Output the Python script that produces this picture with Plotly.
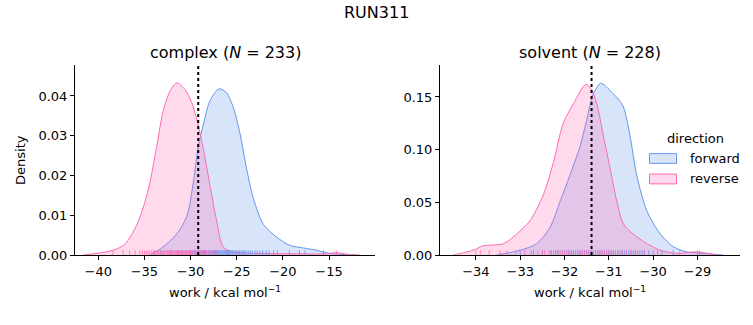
import plotly.graph_objects as go

# ---------------- data ----------------
# complex leg: KDE curves (work in kcal/mol, density)
cx_fwd_x = [-34.4, -33.0, -31.5, -30.4, -29.7, -29.17, -28.6, -27.9, -26.92, -26.1, -25.37,
            -24.65, -23.92, -23.2, -22.1, -20.67, -19.2, -17.8, -16.34, -14.9, -13.1, -12.0]
cx_fwd_y = [0.0, 0.0020, 0.0053, 0.0098, 0.0183, 0.0273, 0.0330, 0.0388, 0.0418, 0.0408, 0.0371,
            0.0306, 0.0216, 0.0143, 0.0077, 0.0045, 0.0024, 0.0018, 0.0012, 0.0004, 0.0001, 0.0]
cx_rev_x = [-41.6, -38.4, -37.1, -35.8, -34.94, -34.4, -33.67, -32.96, -32.23, -31.5, -30.6,
            -29.88, -29.17, -28.6, -27.9, -27.17, -26.45, -25.4, -22.0, -18.0, -15.5, -14.2,
            -13.0, -11.6]
cx_rev_y = [0.0, 0.0012, 0.0028, 0.0077, 0.0134, 0.0183, 0.0273, 0.0363, 0.0412, 0.0433, 0.0416,
            0.0384, 0.0326, 0.0265, 0.0175, 0.0085, 0.0020, 0.0008, 0.0004, 0.0003, 0.0003, 0.0006,
            0.0002, 0.0]
# solvent leg
sv_fwd_x = [-33.53, -33.0, -32.63, -32.33, -32.1, -31.88, -31.65, -31.5, -31.35, -31.18, -30.97,
            -30.79, -30.67, -30.52, -30.37, -30.14, -29.84, -29.54, -29.24, -28.87, -28.41]
sv_fwd_y = [0.0, 0.0046, 0.0108, 0.026, 0.051, 0.0756, 0.103, 0.128, 0.153, 0.163, 0.156,
            0.148, 0.1405, 0.1127, 0.0756, 0.0417, 0.020, 0.0078, 0.003, 0.0016, 0.0]
sv_rev_x = [-34.51, -34.06, -33.84, -33.38, -33.08, -32.78, -32.48, -32.25, -32.03, -31.8, -31.52,
            -31.39, -31.27, -31.12, -30.97, -30.82, -30.67, -30.45, -30.14, -29.84, -29.47, -29.01,
            -28.56]
sv_rev_y = [0.0, 0.0046, 0.0087, 0.0108, 0.020, 0.0324, 0.057, 0.088, 0.125, 0.1435, 0.162,
            0.157, 0.1435, 0.1127, 0.0819, 0.051, 0.0294, 0.020, 0.0108, 0.0046, 0.0016, 0.003,
            0.0]

# rug samples (approximate individual work values)
cx_fwd_rug = [-33.2, -32.1, -31.4, -30.9, -30.5, -30.1, -29.8, -29.6, -29.5, -29.3, -29.2, -29.0,
              -28.9, -28.75, -28.6, -28.5, -28.4, -28.25, -28.1, -28.0, -27.9, -27.75, -27.6,
              -27.5, -27.4, -27.3, -27.2, -27.1, -27.0, -26.9, -26.8, -26.7, -26.6, -26.5, -26.4,
              -26.3, -26.2, -26.1, -26.0, -25.9, -25.8, -25.7, -25.6, -25.45, -25.3, -25.15, -25.0,
              -24.85, -24.7, -24.55, -24.4, -24.25, -24.1, -23.9, -23.7, -23.5, -23.3, -23.0, -22.8,
              -22.5, -22.2, -21.8, -21.5, -21.0, -20.6, -19.3, -18.2, -17.6, -15.6]
cx_rev_rug = [-38.4, -37.3, -36.6, -36.0, -35.5, -35.2, -35.0, -34.8, -34.6, -34.4, -34.2, -34.0,
              -33.9, -33.75, -33.6, -33.45, -33.3, -33.15, -33.0, -32.9, -32.8, -32.65, -32.5,
              -32.4, -32.3, -32.2, -32.1, -32.0, -31.9, -31.8, -31.7, -31.6, -31.5, -31.4, -31.3,
              -31.2, -31.1, -31.0, -30.9, -30.8, -30.7, -30.6, -30.5, -30.4, -30.3, -30.2, -30.1,
              -30.0, -29.9, -29.75, -29.6, -29.45, -29.3, -29.15, -29.0, -28.85, -28.7, -28.5,
              -28.3, -28.1, -27.9, -27.7, -27.4, -27.1, -14.2]
sv_fwd_rug = [-33.0, -32.7, -32.5, -32.3, -32.2, -32.15, -32.05, -32.0, -31.95, -31.9, -31.85,
              -31.8, -31.75, -31.7, -31.65, -31.6, -31.55, -31.5, -31.45, -31.4, -31.35, -31.3,
              -31.25, -31.2, -31.15, -31.1, -31.05, -31.0, -30.95, -30.9, -30.85, -30.8, -30.75,
              -30.7, -30.65, -30.6, -30.55, -30.5, -30.45, -30.4, -30.35, -30.3, -30.25, -30.2,
              -30.1, -30.0, -29.9, -29.8, -29.55, -28.95]
sv_rev_rug = [-34.0, -33.9, -33.7, -33.45, -33.3, -33.1, -32.9, -32.75, -32.6, -32.5, -32.45,
              -32.35, -32.3, -32.25, -32.2, -32.15, -32.1, -32.05, -32.0, -31.95, -31.9, -31.85,
              -31.8, -31.75, -31.7, -31.65, -31.6, -31.55, -31.5, -31.45, -31.4, -31.35, -31.3,
              -31.25, -31.2, -31.15, -31.1, -31.05, -31.0, -30.95, -30.9, -30.8, -30.7, -30.6,
              -30.5, -30.4, -30.2, -29.9, -29.4, -29.0]

# dotted vertical line (free-energy estimate)
cx_line = -29.17
sv_line = -31.39

cx_title = "complex (<i>N</i> = 233)"
sv_title = "solvent (<i>N</i> = 228)"
suptitle = "RUN311"
legend_title = "direction"
directions = ["forward", "reverse"]

cx_xrange = [-42.52, -10.02]
cx_yrange = [0, 0.0477]
sv_xrange = [-34.81, -28.04]
sv_yrange = [0, 0.180]
cx_ticks = [-40, -35, -30, -25, -20, -15]
cx_yticks = [0.00, 0.01, 0.02, 0.03, 0.04]
sv_ticks = [-34, -33, -32, -31, -30, -29]
sv_yticks = [0.00, 0.05, 0.10, 0.15]

# ---------------- styling ----------------
BLUE = "#6495ED"
PINK = "#FF69B4"
BLUE_F = "rgba(100,149,237,0.25)"
PINK_F = "rgba(255,105,180,0.25)"
FONT = "DejaVu Sans"

fig = go.Figure()


def add_panel(xa, ya, fx, fy, rx, ry, frug, rrug, vline, yr):
    for x, y, col, fcol, name in [(fx, fy, BLUE, BLUE_F, directions[0]),
                                  (rx, ry, PINK, PINK_F, directions[1])]:
        fig.add_trace(go.Scatter(
            x=x, y=y, mode="lines", line=dict(color=col, width=1, shape="spline", smoothing=0.8),
            fill="tozeroy", fillcolor=fcol, name=name, showlegend=False,
            xaxis=xa, yaxis=ya, hoverinfo="skip"))
    h = 0.025 * yr[1]
    for rug, col in [(frug, BLUE), (rrug, PINK)]:
        xs, ys = [], []
        for v in rug:
            xs += [v, v, None]
            ys += [0, h, None]
        fig.add_trace(go.Scatter(x=xs, y=ys, mode="lines", line=dict(color=col, width=1),
                                 opacity=0.8, showlegend=False, xaxis=xa, yaxis=ya,
                                 hoverinfo="skip"))
    fig.add_trace(go.Scatter(x=[vline, vline], y=[0, yr[1]], mode="lines",
                             line=dict(color="black", width=2, dash="dot"),
                             showlegend=False, xaxis=xa, yaxis=ya, hoverinfo="skip"))


add_panel("x", "y", cx_fwd_x, cx_fwd_y, cx_rev_x, cx_rev_y, cx_fwd_rug, cx_rev_rug,
          cx_line, cx_yrange)
add_panel("x2", "y2", sv_fwd_x, sv_fwd_y, sv_rev_x, sv_rev_y, sv_fwd_rug, sv_rev_rug,
          sv_line, sv_yrange)

W, H = 753, 325
ybot = (H - 261.5) / H
ytop = (H - 67) / H

axis_common = dict(showgrid=False, zeroline=False, showline=True, linecolor="black",
                   linewidth=1, ticks="outside", ticklen=4, tickcolor="black",
                   tickfont=dict(family=FONT, size=13, color="black"), mirror=False)

fig.update_layout(
    width=W, height=H, margin=dict(l=0, r=0, t=0, b=0),
    paper_bgcolor="white", plot_bgcolor="white",
    font=dict(family=FONT, color="black"),
    xaxis=dict(domain=[75 / W, 375 / W], range=cx_xrange, tickvals=cx_ticks,
               ticktext=[f"\u2212{abs(t)}" for t in cx_ticks], anchor="y", **axis_common),
    yaxis=dict(domain=[ybot, ytop], range=cx_yrange, tickvals=cx_yticks,
               ticktext=[f"{t:.2f}" for t in cx_yticks], anchor="x", **axis_common),
    xaxis2=dict(domain=[440 / W, 740 / W], range=sv_xrange, tickvals=sv_ticks,
                ticktext=[f"\u2212{abs(t)}" for t in sv_ticks], anchor="y2", **axis_common),
    yaxis2=dict(domain=[ybot, ytop], range=sv_yrange, tickvals=sv_yticks,
                ticktext=[f"{t:.2f}" for t in sv_yticks], anchor="x2", **axis_common),
    showlegend=False,
)

ann = [
    dict(text=suptitle, x=376.5 / W, y=1 - 13 / H, size=16),
    dict(text=cx_title, x=225 / W, y=1 - 54 / H, size=16),
    dict(text=sv_title, x=590 / W, y=1 - 54 / H, size=16),
    dict(text="work / kcal mol<sup>\u22121</sup>", x=225 / W, y=1 - 299 / H, size=13),
    dict(text="work / kcal mol<sup>\u22121</sup>", x=590 / W, y=1 - 299 / H, size=13),
    dict(text=legend_title, x=695 / W, y=1 - 142 / H, size=13),
]
for a in ann:
    fig.add_annotation(text=a["text"], x=a["x"], y=a["y"], xref="paper", yref="paper",
                       xanchor="center", yanchor="middle", showarrow=False,
                       font=dict(family=FONT, size=a["size"], color="black"))
fig.add_annotation(text="Density", x=21 / W, y=1 - 164 / H, xref="paper", yref="paper",
                   textangle=-90, showarrow=False, xanchor="center", yanchor="middle",
                   font=dict(family=FONT, size=13, color="black"))

# manual legend (patches like matplotlib)
for i, (name, col, fcol) in enumerate(zip(directions, [BLUE, PINK], [BLUE_F, PINK_F])):
    yc = 162.5 + 21 * i
    fig.add_shape(type="rect", xref="paper", yref="paper",
                  x0=649.5 / W, x1=676.5 / W, y0=1 - (yc - 5) / H, y1=1 - (yc + 5) / H,
                  fillcolor=fcol, line=dict(color=col, width=1))
    fig.add_annotation(text=name, x=688 / W, y=1 - (yc - 0.5) / H, xref="paper", yref="paper",
                       xanchor="left", yanchor="middle", showarrow=False,
                       font=dict(family=FONT, size=13, color="black"))

fig.write_html("out.html")
